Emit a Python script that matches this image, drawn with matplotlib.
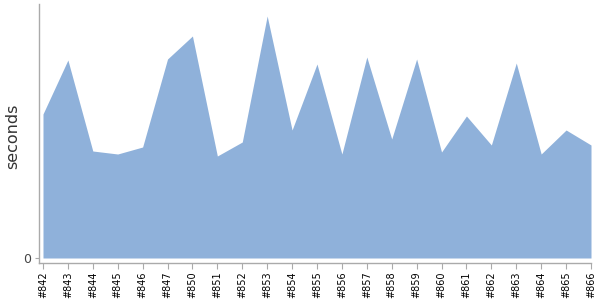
import matplotlib
matplotlib.use("Agg")
import matplotlib.pyplot as plt

builds = ["#842", "#843", "#844", "#845", "#846", "#847", "#850", "#851",
          "#852", "#853", "#854", "#855", "#856", "#857", "#858", "#859",
          "#860", "#861", "#862", "#863", "#864", "#865", "#866"]
seconds = [144, 198, 107, 104, 111, 199, 222, 102, 116, 242, 128, 194,
           104, 201, 119, 199, 106, 142, 113, 195, 104, 128, 113]

fig = plt.figure(figsize=(6, 3), dpi=100)
# axes box in pixels: left 39.5, right 591, top 4, bottom 263
ax = fig.add_axes([39.5 / 600, (300 - 263) / 300, (591 - 39.5) / 600, (263 - 4) / 300])

x = list(range(len(builds)))
ax.fill_between(x, 0, seconds, color="#8fb1da", linewidth=0)

ax.set_xlim(-0.14, len(builds) - 1)
ax.set_ylim(-5, 254)

ax.set_xticks(x)
ax.set_xticklabels(builds, rotation=90, fontsize=7, color="black")
ax.set_yticks([0])
ax.set_yticklabels(["0"], fontsize=9, color="#444444")
ax.set_ylabel("seconds", fontsize=11.5, color="#333333", va="center")
ax.yaxis.set_label_coords(-26.5 / 551.5, 0.49)

for side in ["top", "right"]:
    ax.spines[side].set_visible(False)
for side in ["left", "bottom"]:
    ax.spines[side].set_color("#aaaaaa")
    ax.spines[side].set_linewidth(1)
ax.tick_params(axis="x", length=4, color="#aaaaaa", pad=2)
ax.tick_params(axis="y", length=3, color="#aaaaaa", pad=3)
ax.yaxis.set_ticks_position("left")

fig.savefig("out.png", dpi=100)
